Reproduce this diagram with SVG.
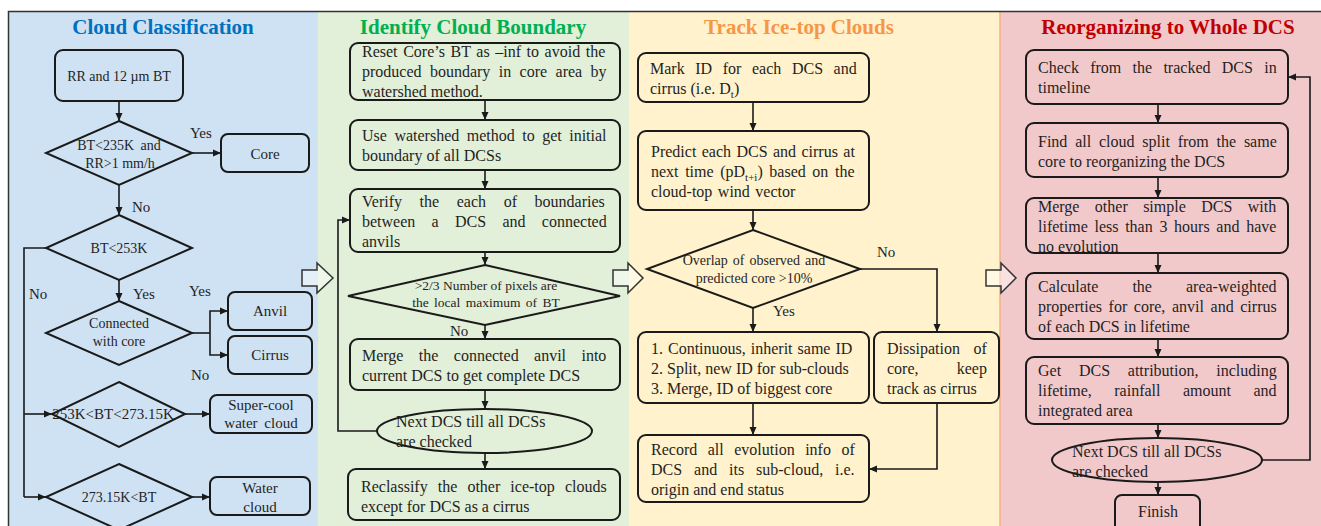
<svg xmlns="http://www.w3.org/2000/svg" width="1321" height="526" viewBox="0 0 1321 526">
<style>
.t{font-family:"Liberation Serif","Times New Roman",serif;fill:#1f1f1f;font-size:16px}
.c{text-anchor:middle}
.s14{font-size:14px}
.s15{font-size:15px}
.title{font-family:"Liberation Serif","Times New Roman",serif;font-weight:bold;font-size:21px;text-anchor:middle}
.box{stroke:#1a1a1a;stroke-width:2}
.ln{fill:none;stroke:#1a1a1a;stroke-width:1.6}
.ar{marker-end:url(#ah)}
.blk{fill:#ffffff;fill-opacity:0.45;stroke:#333;stroke-width:1.5}
</style>
<defs>
<marker id="ah" markerUnits="userSpaceOnUse" markerWidth="8" markerHeight="8" refX="8" refY="4" orient="auto">
<path d="M0,0.5 L8,4 L0,7.5 z" fill="#1a1a1a"/>
</marker>
</defs>
<rect x="0" y="0" width="1321" height="526" fill="#ffffff"/>
<g id="panels">
<rect x="9" y="12" width="309" height="514" fill="#cfe2f3"/>
<rect x="318" y="12" width="311" height="514" fill="#e2efd9"/>
<rect x="629" y="12" width="371" height="514" fill="#fff2cc"/>
<rect x="1000" y="12" width="321" height="514" fill="#f2c9cb"/>
<line x1="1000" y1="12" x2="1000" y2="526" stroke="#f4b183" stroke-width="1.5"/>
<rect x="8.5" y="11.5" width="1320" height="520" fill="none" stroke="#333" stroke-width="1.5"/>
</g>
<g id="titles">
<text class="title" x="163" y="34" fill="#0070c0">Cloud Classification</text>
<text class="title" x="473" y="34" fill="#00b050">Identify Cloud Boundary</text>
<text class="title" x="799" y="34" fill="#f79646">Track Ice-top Clouds</text>
<text class="title" x="1168" y="34" fill="#c00000">Reorganizing to Whole DCS</text>
</g>
<g id="connectors">
<line class="ln ar" x1="119" y1="101" x2="119" y2="121"/>
<line class="ln ar" x1="192" y1="153" x2="221" y2="153"/>
<line class="ln ar" x1="119" y1="185" x2="119" y2="215"/>
<polyline class="ln" points="46,248 24,248 24,497"/>
<line class="ln ar" x1="24" y1="414" x2="52" y2="414"/>
<line class="ln ar" x1="24" y1="497" x2="46" y2="497"/>
<line class="ln ar" x1="119" y1="280" x2="119" y2="301"/>
<polyline class="ln" points="192,333 210,333"/>
<polyline class="ln ar" points="210,333 210,311 228,311"/>
<polyline class="ln ar" points="210,333 210,355 228,355"/>
<line class="ln ar" x1="185" y1="414" x2="210" y2="414"/>
<line class="ln ar" x1="192" y1="497" x2="210" y2="497"/>
<line class="ln ar" x1="485" y1="100" x2="485" y2="120"/>
<line class="ln ar" x1="485" y1="170" x2="485" y2="189"/>
<line class="ln ar" x1="485" y1="252" x2="485" y2="265"/>
<line class="ln ar" x1="485" y1="325" x2="485" y2="339"/>
<line class="ln ar" x1="485" y1="390" x2="485" y2="409"/>
<line class="ln ar" x1="485" y1="453" x2="485" y2="469"/>
<polyline class="ln ar" points="377,431 338,431 338,220 350,220"/>
<line class="ln ar" x1="753" y1="102" x2="753" y2="131"/>
<line class="ln ar" x1="753" y1="210" x2="753" y2="230"/>
<line class="ln ar" x1="753" y1="308" x2="753" y2="332"/>
<polyline class="ln ar" points="860,269 937,269 937,332"/>
<line class="ln ar" x1="753" y1="403" x2="753" y2="435"/>
<polyline class="ln ar" points="937,403 937,469 869,469"/>
<line class="ln ar" x1="1158" y1="104" x2="1158" y2="123"/>
<line class="ln ar" x1="1158" y1="177" x2="1158" y2="198"/>
<line class="ln ar" x1="1158" y1="253" x2="1158" y2="273"/>
<line class="ln ar" x1="1158" y1="339" x2="1158" y2="357"/>
<line class="ln ar" x1="1158" y1="424" x2="1158" y2="438"/>
<line class="ln ar" x1="1158" y1="482" x2="1158" y2="495"/>
<polyline class="ln ar" points="1262,460 1310,460 1310,77 1288,77"/>
<polygon class="blk" points="302,270 317,270 317,263 333,278 317,293 317,286 302,286"/>
<polygon class="blk" points="613,270 628,270 628,263 643,278 628,293 628,286 613,286"/>
<polygon class="blk" points="986,270 1001,270 1001,263 1016,278 1001,293 1001,286 986,286"/>
<text class="t s15" x="190" y="138">Yes</text>
<text class="t s15" x="132" y="212">No</text>
<text class="t s15" x="29" y="299">No</text>
<text class="t s15" x="133" y="299">Yes</text>
<text class="t s15" x="189" y="296">Yes</text>
<text class="t s15" x="191" y="380">No</text>
<text class="t s15" x="450" y="336">No</text>
<text class="t s15" x="877" y="257">No</text>
<text class="t s15" x="773" y="316">Yes</text>
</g>
<g id="n-rrbt"><rect class="box" x="55" y="50" width="128" height="51" rx="8" fill="#cfe2f3"/><text class="t c s14" x="119" y="81">RR and 12 µm BT</text></g>
<g id="n-d1"><polygon class="box" points="119,121 192,153 119,185 46,153" fill="#cfe2f3"/><text class="t c s14" x="119" y="150" style="word-spacing:3px">BT&lt;235K and</text><text class="t c s14" x="120" y="168">RR&gt;1 mm/h</text></g>
<g id="n-core"><rect class="box" x="221" y="134" width="88" height="38" rx="7" fill="#cfe2f3"/><text class="t c s15" x="265" y="159">Core</text></g>
<g id="n-d2"><polygon class="box" points="119,215 192,248 119,280 46,248" fill="#cfe2f3"/><text class="t c s14" x="119" y="253">BT&lt;253K</text></g>
<g id="n-d3"><polygon class="box" points="119,301 192,333 119,365 46,333" fill="#cfe2f3"/><text class="t c s14" x="119" y="328">Connected</text><text class="t c s14" x="119" y="346">with core</text></g>
<g id="n-anvil"><rect class="box" x="228" y="292" width="84" height="38" rx="7" fill="#cfe2f3"/><text class="t c s15" x="270" y="316">Anvil</text></g>
<g id="n-cirrus"><rect class="box" x="228" y="336" width="84" height="38" rx="7" fill="#cfe2f3"/><text class="t c s15" x="270" y="360">Cirrus</text></g>
<g id="n-d4"><polygon class="box" points="119,382 185,414 119,447 52,414" fill="#cfe2f3"/><text class="t c s15" x="113" y="419">253K&lt;BT&lt;273.15K</text></g>
<g id="n-supercool"><rect class="box" x="210" y="395" width="102" height="38" rx="7" fill="#cfe2f3"/><text class="t c s15" x="261" y="410">Super-cool</text><text class="t c s15" x="261" y="428" style="word-spacing:3px">water cloud</text></g>
<g id="n-d5"><polygon class="box" points="119,464 192,497 119,530 46,497" fill="#cfe2f3"/><text class="t c s14" x="119" y="502">273.15K&lt;BT</text></g>
<g id="n-water"><rect class="box" x="210" y="477" width="100" height="38" rx="7" fill="#cfe2f3"/><text class="t c s15" x="260" y="493">Water</text><text class="t c s15" x="260" y="512">cloud</text></g>

<g id="n-reset"><rect class="box" x="350" y="43" width="270" height="57" rx="8" fill="#e2efd9"/>
<text class="t" x="362" y="57" style="word-spacing:1.6px">Reset Core’s BT as –inf to avoid the</text>
<text class="t" x="362" y="77" style="word-spacing:4.4px">produced boundary in core area by</text>
<text class="t" x="362" y="97">watershed method.</text></g>
<g id="n-watershed"><rect class="box" x="350" y="120" width="270" height="50" rx="8" fill="#e2efd9"/>
<text class="t" x="362" y="141" style="word-spacing:3.5px">Use watershed method to get initial</text>
<text class="t" x="362" y="161">boundary of all DCSs</text></g>
<g id="n-verify"><rect class="box" x="350" y="189" width="270" height="63" rx="8" fill="#e2efd9"/>
<text class="t" x="362" y="207" style="word-spacing:13.6px">Verify the each of boundaries</text>
<text class="t" x="362" y="227" style="word-spacing:12.3px">between a DCS and connected</text>
<text class="t" x="362" y="247">anvils</text></g>
<g id="n-d-pixels"><polygon class="box" points="485,265 620,296 485,325 348,296" fill="#e2efd9"/>
<text class="t c" style="font-size:13.5px" x="486" y="290">&gt;2/3 Number of pixels are</text>
<text class="t c" style="font-size:13.5px;word-spacing:2px" x="486" y="307">the local maximum of BT</text></g>
<g id="n-merge"><rect class="box" x="350" y="339" width="270" height="51" rx="8" fill="#e2efd9"/>
<text class="t" x="362" y="361" style="word-spacing:11.4px">Merge the connected anvil into</text>
<text class="t" x="362" y="381">current DCS to get complete DCS</text></g>
<g id="n-next1"><ellipse class="box" cx="484.5" cy="431" rx="107.5" ry="22" fill="#e2efd9"/>
<text class="t" x="396" y="427">Next DCS till all DCSs</text>
<text class="t" x="396" y="447">are checked</text></g>
<g id="n-reclassify"><rect class="box" x="348" y="469" width="272" height="51" rx="8" fill="#e2efd9"/>
<text class="t" x="361" y="492" style="word-spacing:6.1px">Reclassify the other ice-top clouds</text>
<text class="t" x="361" y="512">except for DCS as a cirrus</text></g>

<g id="n-markid"><rect class="box" x="638" y="53" width="231" height="49" rx="8" fill="#fff2cc"/>
<text class="t" x="650" y="74" style="word-spacing:6.6px">Mark ID for each DCS and</text>
<text class="t" x="650" y="94">cirrus (i.e. D<tspan dy="4" font-size="11">t</tspan><tspan dy="-4">)</tspan></text></g>
<g id="n-predict"><rect class="box" x="638" y="131" width="231" height="79" rx="8" fill="#fff2cc"/>
<text class="t" x="651" y="157" style="word-spacing:1.4px">Predict each DCS and cirrus at</text>
<text class="t" x="651" y="177" style="word-spacing:2.6px">next time (pD<tspan dy="4" font-size="11">t+i</tspan><tspan dy="-4">) based on the</tspan></text>
<text class="t" x="651" y="197" style="word-spacing:1.5px">cloud-top wind vector</text></g>
<g id="n-d-overlap"><polygon class="box" points="753,230 860,269 753,308 647,269" fill="#fff2cc"/>
<text class="t c s14" x="754" y="265" style="word-spacing:1.5px">Overlap of observed and</text>
<text class="t c s14" x="754" y="283">predicted core &gt;10%</text></g>
<g id="n-continuous"><rect class="box" x="638" y="332" width="231" height="71" rx="8" fill="#fff2cc"/>
<text class="t" x="651" y="354" style="word-spacing:1px">1. Continuous, inherit same ID</text>
<text class="t" x="651" y="374">2. Split, new ID for sub-clouds</text>
<text class="t" x="651" y="394">3. Merge, ID of biggest core</text></g>
<g id="n-dissipation"><rect class="box" x="874" y="332" width="125" height="71" rx="8" fill="#fff2cc"/>
<text class="t" x="887" y="354" style="word-spacing:9.7px">Dissipation of</text>
<text class="t" x="887" y="374" style="word-spacing:34.2px">core, keep</text>
<text class="t" x="887" y="394">track as cirrus</text></g>
<g id="n-record"><rect class="box" x="638" y="435" width="231" height="67" rx="8" fill="#fff2cc"/>
<text class="t" x="651" y="455" style="word-spacing:6.5px">Record all evolution info of</text>
<text class="t" x="651" y="475" style="word-spacing:7.9px">DCS and its sub-cloud, i.e.</text>
<text class="t" x="651" y="495">origin and end status</text></g>

<g id="n-check"><rect class="box" x="1026" y="50" width="262" height="54" rx="8" fill="#f2c9cb"/>
<text class="t" x="1038" y="73" style="word-spacing:7.3px">Check from the tracked DCS in</text>
<text class="t" x="1038" y="93">timeline</text></g>
<g id="n-find"><rect class="box" x="1026" y="123" width="262" height="54" rx="8" fill="#f2c9cb"/>
<text class="t" x="1038" y="147" style="word-spacing:3.8px">Find all cloud split from the same</text>
<text class="t" x="1038" y="167">core to reorganizing  the DCS</text></g>
<g id="n-mergesimple"><rect class="box" x="1026" y="198" width="262" height="55" rx="8" fill="#f2c9cb"/>
<text class="t" x="1038" y="212" style="word-spacing:11.4px">Merge other simple DCS with</text>
<text class="t" x="1038" y="232" style="word-spacing:2.7px">lifetime less than 3 hours and have</text>
<text class="t" x="1038" y="252">no evolution</text></g>
<g id="n-calculate"><rect class="box" x="1026" y="273" width="262" height="66" rx="8" fill="#f2c9cb"/>
<text class="t" x="1038" y="292" style="word-spacing:30px">Calculate the area-weighted</text>
<text class="t" x="1038" y="312" style="word-spacing:2.6px">properties for core, anvil and cirrus</text>
<text class="t" x="1038" y="332">of each DCS in lifetime</text></g>
<g id="n-attribution"><rect class="box" x="1026" y="357" width="262" height="67" rx="8" fill="#f2c9cb"/>
<text class="t" x="1038" y="376" style="word-spacing:13.8px">Get DCS attribution, including</text>
<text class="t" x="1038" y="396" style="word-spacing:18.5px">lifetime, rainfall amount and</text>
<text class="t" x="1038" y="416">integrated area</text></g>
<g id="n-next2"><ellipse class="box" cx="1157" cy="460" rx="105" ry="22" fill="#f2c9cb"/>
<text class="t" x="1072" y="457">Next DCS till all DCSs</text>
<text class="t" x="1072" y="477">are checked</text></g>
<g id="n-finish"><rect class="box" x="1115" y="495" width="85" height="42" rx="7" fill="#f2c9cb"/>
<text class="t c" x="1158" y="517">Finish</text></g>
</svg>
